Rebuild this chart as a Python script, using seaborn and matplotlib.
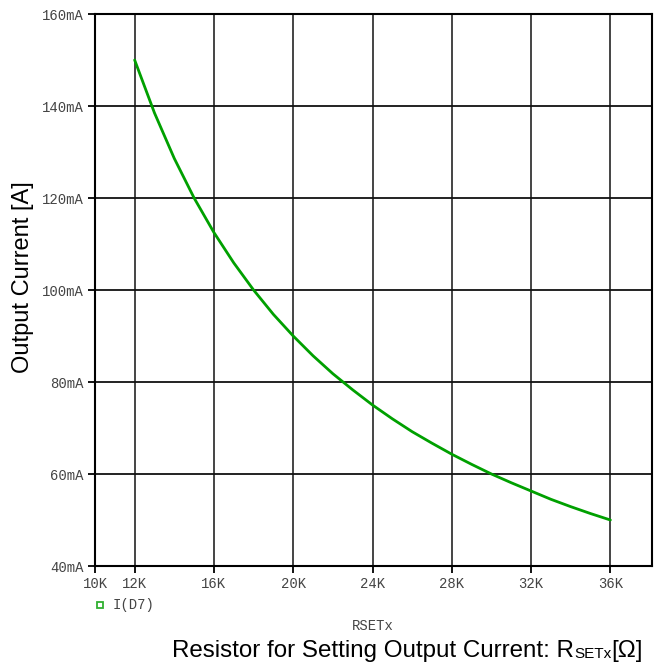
import matplotlib
matplotlib.use("Agg")
import matplotlib.pyplot as plt
from matplotlib.lines import Line2D
import seaborn as sns
import pandas as pd

# Data (resistance in kOhm, current in mA)
r_set_k = [12, 13, 14, 15, 16, 17, 18, 19, 20, 21, 22, 23, 24, 25, 26, 27, 28, 29, 30, 31, 32, 33, 34, 35, 36]
i_out_ma = [150, 138.5, 128.6, 120, 112.5, 105.9, 100, 94.7, 90, 85.7, 81.8, 78.3, 75, 72, 69.2, 66.7,
            64.3, 62.1, 60, 58.1, 56.3, 54.5, 52.9, 51.4, 50]
x_ticks = [10, 12, 16, 20, 24, 28, 32, 36]
x_tick_labels = ["10K", "12K", "16K", "20K", "24K", "28K", "32K", "36K"]
y_ticks = [40, 60, 80, 100, 120, 140, 160]
y_tick_labels = ["40mA", "60mA", "80mA", "100mA", "120mA", "140mA", "160mA"]

sns.set_theme(style="white")
plt.rcParams['font.family'] = ['Liberation Sans', 'DejaVu Sans']

df = pd.DataFrame({"R": r_set_k, "I": i_out_ma})

W, H = 657, 666
fig = plt.figure(figsize=(W/100, H/100), dpi=100)
ax = fig.add_axes([95/W, 100/H, (652-95)/W, (566-14)/H])

sns.lineplot(data=df, x="R", y="I", ax=ax, color="#00a000", linewidth=2.0, zorder=5)

ax.set_xlim(10, 38.1)
ax.set_ylim(40, 160)

# grid lines
for xv in x_ticks[1:]:
    ax.axvline(xv, color="#444444", linewidth=1.4, zorder=1)
for yv in y_ticks[1:-1]:
    ax.axhline(yv, color="#111111", linewidth=1.3, zorder=1)

ax.set_xticks(x_ticks)
ax.set_xticklabels(x_tick_labels)
ax.set_yticks(y_ticks)
ax.set_yticklabels(y_tick_labels)
mono = ['Liberation Mono', 'DejaVu Sans Mono']
for lab in ax.get_xticklabels() + ax.get_yticklabels():
    lab.set_family(mono)
    lab.set_fontsize(10)
    lab.set_color("#444444")
ax.tick_params(axis='both', direction='out', length=5, width=1.3, color='black', pad=3,
               bottom=True, left=True)
for s in ax.spines.values():
    s.set_color("black")
    s.set_linewidth(1.5)

ax.set_xlabel("")
ax.set_ylabel("")

fig.text(23/W, 1 - 277/H, "Output Current [A]", rotation=90, ha='center', va='center',
         fontsize=17, color='black')
fig.text(373/W, 1 - 626/H, "RSETx", family=mono, fontsize=10, color='#444444',
         ha='center', va='center')

# bottom label built from pieces (main text, small subscript, unit)
renderer = fig.canvas.get_renderer()
x0 = 172
base = 1 - 657/H
pieces = [("Resistor for Setting Output Current: R", 17.4, 0), ("SETx", 11, -1), ("[Ω]", 17.4, 0)]
for txt, fs, dy in pieces:
    t = fig.text(x0/W, base + dy/H, txt, ha='left', va='baseline', fontsize=fs, color='black')
    bb = t.get_window_extent(renderer=renderer)
    x0 += bb.width

# legend entry
fig.add_artist(Line2D([100/W], [1 - 605/H], marker='s', markersize=4.5, markerfacecolor='white',
                      markeredgecolor='#30b030', markeredgewidth=1.3, linestyle='none',
                      transform=fig.transFigure))
fig.text(113/W, 1 - 605/H, "I(D7)", family=mono, fontsize=10, color='#444444',
         ha='left', va='center')

fig.savefig("out.png", dpi=100)
